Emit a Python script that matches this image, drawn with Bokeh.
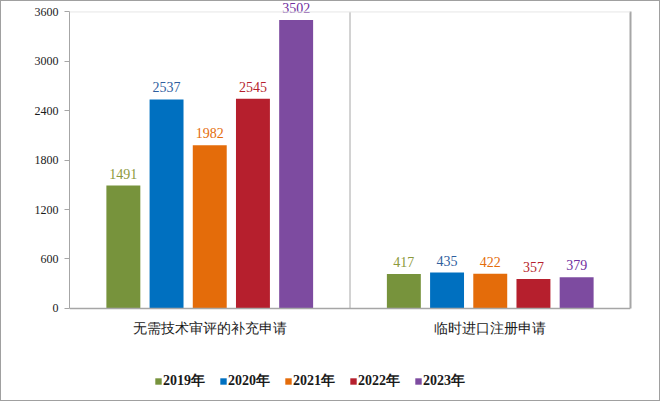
from bokeh.plotting import figure
from bokeh.models import (ColumnDataSource, Range1d, FixedTicker, LabelSet,
                          Legend, LegendItem, Span, LinearAxis)
from bokeh.transform import dodge
from bokeh.embed import file_html
from bokeh.resources import INLINE

# data
categories = ["无需技术审评的补充申请", "临时进口注册申请"]
years = ["2019年", "2020年", "2021年", "2022年", "2023年"]
v2019 = [1491, 417]
v2020 = [2537, 435]
v2021 = [1982, 422]
v2022 = [2545, 357]
v2023 = [3502, 379]
y_ticks = [0, 600, 1200, 1800, 2400, 3000, 3600]

bar_colors = ["#77933C", "#0070C0", "#E46C0A", "#B61F2D", "#7D4BA0"]
label_colors = ["#8C9A3C", "#2F5E9E", "#E46C0A", "#B61F2D", "#7030A0"]

series = [v2019, v2020, v2021, v2022, v2023]
data = {"cx": [0.5, 1.5], "cat": categories}
for yr, vals in zip(years, series):
    data[yr] = vals
    data[yr + "_txt"] = [str(v) for v in vals]
source = ColumnDataSource(data)

y_max = y_ticks[-1]
# the frame runs below zero so that category names and legend sit inside it
p = figure(width=660, height=401, x_range=Range1d(0, 2), y_range=Range1d(-1131, 3715),
           output_backend="svg", toolbar_location=None,
           min_border_left=68, min_border_right=31, min_border_top=1,
           min_border_bottom=1)
p.styles = {"border": "1.5px solid #A0A0A0"}
p.outline_line_color = None
p.xgrid.visible = False
p.ygrid.visible = False
p.xaxis.visible = False

step = 0.154
renderers = []
for j, yr in enumerate(years):
    xs = dodge("cx", (j - 2) * step, range=p.x_range)
    r = p.vbar(x=xs, top=yr, width=0.121, source=source,
               fill_color=bar_colors[j], line_color=None)
    renderers.append(r)
    labels = LabelSet(x=xs, y=yr, text=yr + "_txt", source=source,
                      text_align="center", text_baseline="bottom", y_offset=7,
                      text_font="Liberation Serif", text_font_size="14px",
                      text_color=label_colors[j])
    p.add_layout(labels)

# baseline, faint top edge, divider between the groups, right edge
p.add_layout(Span(location=0, dimension="width", line_color="#A6A6A6", line_width=1.5))
p.add_layout(Span(location=y_max, dimension="width", line_color="#E6E6E6", line_width=1))
p.segment(x0=[1], y0=[0], x1=[1], y1=[y_max], line_color="#A6A6A6", line_width=1)
right = LinearAxis(bounds=(0, y_max), ticker=FixedTicker(ticks=[]),
                   axis_line_color="#A6A6A6", axis_line_width=2,
                   major_tick_line_color=None, minor_tick_line_color=None,
                   major_label_text_font_size="0px")
p.add_layout(right, "right")

# y axis
yax = p.yaxis[0]
yax.bounds = (0, y_max)
yax.ticker = FixedTicker(ticks=y_ticks)
yax.axis_line_color = "#A6A6A6"
yax.major_tick_line_color = "#A6A6A6"
yax.major_tick_out = 5
yax.major_tick_in = 0
yax.minor_tick_line_color = None
yax.major_label_text_font = "Liberation Serif"
yax.major_label_text_font_size = "12px"
yax.major_label_text_color = "#1A1A1A"
yax.major_label_standoff = 6

# category names under each group
cats = LabelSet(x="cx", y=0, text="cat", source=source, y_offset=-13,
                text_align="center", text_baseline="top",
                text_font="Noto Sans CJK SC", text_font_size="14px",
                text_color="#1A1A1A")
p.add_layout(cats)

legend = Legend(items=[LegendItem(label=yr, renderers=[r]) for yr, r in zip(years, renderers)],
                orientation="horizontal", location=(85, 11),
                glyph_width=8, glyph_height=8, label_height=14, label_standoff=1,
                spacing=14, padding=0, margin=0,
                border_line_color=None, background_fill_alpha=0,
                label_text_font="Liberation Serif", label_text_font_style="bold",
                label_text_font_size="14px", label_text_color="#1A1A1A")
p.add_layout(legend)

open("out.html", "w").write(file_html(p, INLINE))
